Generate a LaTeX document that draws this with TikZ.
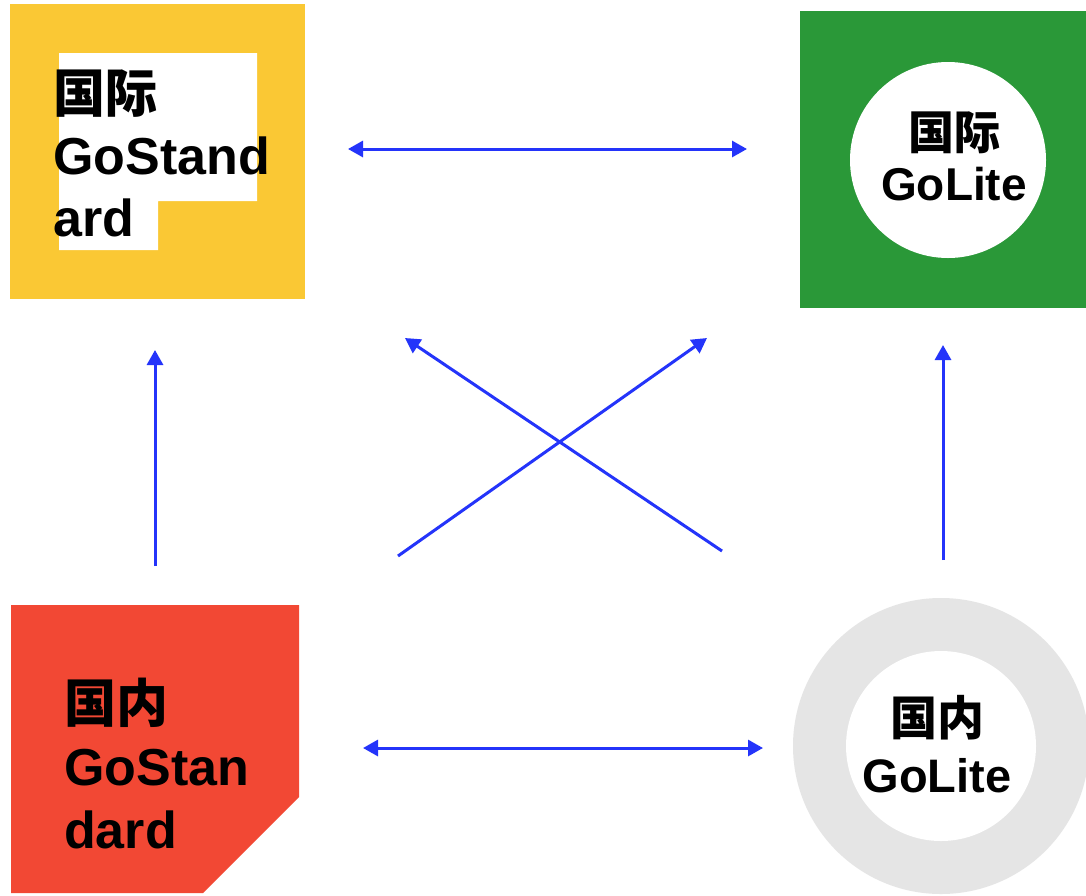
\documentclass[tikz,border=0pt]{standalone}
\usepackage{fontspec}
\setmainfont{Liberation Sans}
\newfontfamily\cjk{Noto Sans CJK SC}
\usetikzlibrary{arrows.meta}
\definecolor{cyellow}{RGB}{250,200,52}
\definecolor{cgreen}{RGB}{42,152,56}
\definecolor{cred}{RGB}{242,72,52}
\definecolor{cgray}{RGB}{229,229,229}
\definecolor{cblue}{RGB}{36,52,250}
\begin{document}
\begin{tikzpicture}[x=1pt,y=-1pt,
  conn/.style={draw=cblue,line width=3pt,-{Triangle[length=15pt,width=16pt]}},
  biconn/.style={draw=cblue,line width=3pt,{Triangle[length=15pt,width=16pt]}-{Triangle[length=15pt,width=16pt]}},
  lbl/.style={inner sep=0pt,text=black}]
\useasboundingbox (0,0) rectangle (1086,895);
\fill[white] (0,0) rectangle (1086,895);
% top-left: international GoStandard
\fill[cyellow] (10,4) rectangle (305,299);
\fill[white] (59,53) -- (257,53) -- (257,201) -- (158,201) -- (158,250) -- (59,250) -- cycle;
\node[lbl,anchor=north west,align=left,font={\bfseries\fontsize{52}{62}\selectfont}] (gsi) at (53,70) {{\cjk 国际}\\GoStand\\ard};
% top-right: international GoLite
\fill[cgreen] (800,11) rectangle (1086,308);
\fill[white] (948,160) circle[radius=98];
\node[lbl,anchor=north,align=center,font={\bfseries\fontsize{46}{51}\selectfont}] (gli) at (954,112) {{\cjk 国际}\\GoLite};
% bottom-left: domestic GoStandard
\fill[cred] (11,605) -- (299,605) -- (299,797) -- (203,893) -- (11,893) -- cycle;
\node[lbl,anchor=north west,align=left,font={\bfseries\fontsize{52}{63}\selectfont}] (gsd) at (64,678) {{\cjk 国内}\\GoStan\\dard};
% bottom-right: domestic GoLite
\fill[cgray] (941,746) circle[radius=148];
\fill[white] (941,746) circle[radius=95];
\node[lbl,anchor=north,align=center,font={\bfseries\fontsize{47}{57}\selectfont}] (gld) at (937,695) {{\cjk 国内}\\GoLite};
% connector ends
\coordinate (t1) at (348,149); \coordinate (t2) at (747,149);
\coordinate (b1) at (363,748); \coordinate (b2) at (763,748);
\coordinate (l1) at (155,566); \coordinate (l2) at (155,350);
\coordinate (r1) at (943,560); \coordinate (r2) at (943,345);
\coordinate (d1) at (398,556); \coordinate (d2) at (707,338);
\coordinate (e1) at (722,551); \coordinate (e2) at (405,338);
\draw[biconn] (t1) -- (t2);
\draw[biconn] (b1) -- (b2);
\draw[conn] (l1) -- (l2);
\draw[conn] (r1) -- (r2);
\draw[conn] (d1) -- (d2);
\draw[conn] (e1) -- (e2);
\end{tikzpicture}
\end{document}
